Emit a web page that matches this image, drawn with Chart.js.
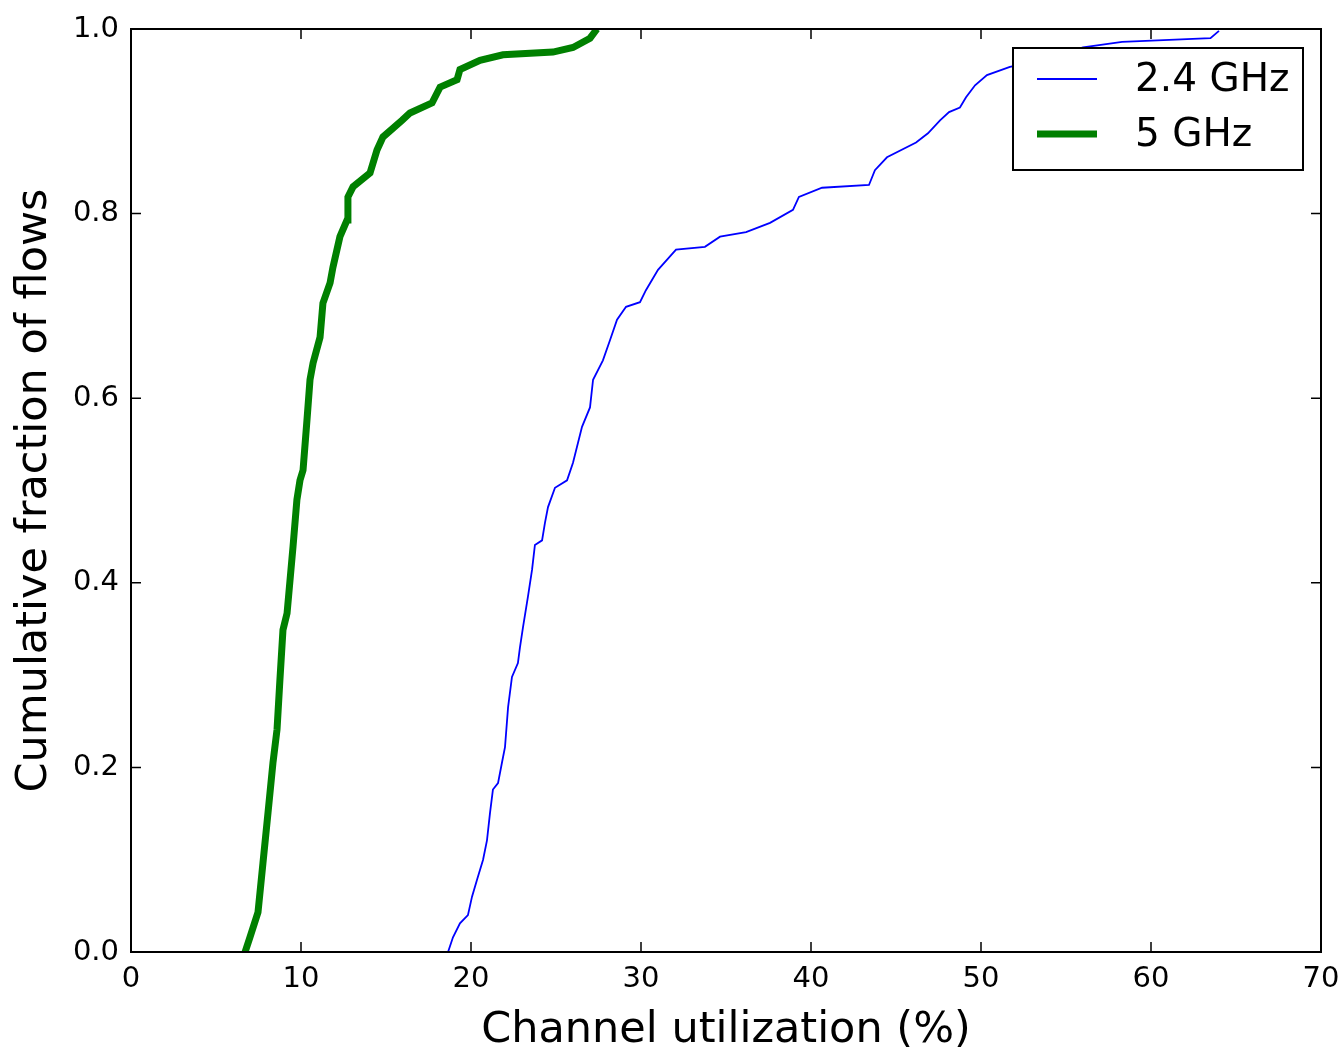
<!DOCTYPE html>
<html>
<head>
<meta charset="utf-8">
<script src="https://cdn.jsdelivr.net/npm/chart.js@4"></script>
<style>
  html, body { margin: 0; padding: 0; background: #fff; }
  #wrap { width: 1342px; height: 1048px; }
</style>
</head>
<body>
<div id="wrap"><canvas id="myChart" width="1342" height="1048"></canvas></div>
<script>
// CDF of channel utilization
var util24 = [18.65, 18.94, 19.35, 19.82, 20.06, 20.35, 20.71, 20.94, 21.12, 21.29, 21.59, 21.82, 22.0, 22.18, 22.41, 22.76, 22.88, 23.06, 23.35, 23.59, 23.76, 24.18, 24.35, 24.53, 24.94, 25.65, 26.0, 26.53, 27.0, 27.18, 27.76, 28.18, 28.59, 29.12, 29.94, 30.29, 31.0, 32.06, 33.76, 34.65, 36.18, 37.59, 38.94, 39.29, 40.65, 43.41, 43.76, 44.47, 46.18, 46.88, 47.59, 48.12, 48.76, 49.12, 49.65, 50.35, 51.7, 53.5, 56.0, 58.3, 63.5, 64.0];
var cdf24 = [0, 0.016, 0.031, 0.040, 0.060, 0.078, 0.100, 0.121, 0.151, 0.176, 0.183, 0.205, 0.222, 0.265, 0.298, 0.313, 0.330, 0.352, 0.385, 0.414, 0.441, 0.446, 0.465, 0.482, 0.503, 0.511, 0.530, 0.569, 0.590, 0.620, 0.641, 0.663, 0.685, 0.699, 0.704, 0.717, 0.739, 0.761, 0.764, 0.775, 0.780, 0.790, 0.804, 0.818, 0.828, 0.831, 0.847, 0.861, 0.877, 0.887, 0.901, 0.910, 0.915, 0.926, 0.939, 0.950, 0.959, 0.966, 0.980, 0.986, 0.990, 0.998];

var util5 = [6.71, 7.0, 7.47, 7.76, 8.06, 8.35, 8.59, 8.76, 8.94, 9.18, 9.53, 9.76, 9.94, 10.12, 10.35, 10.53, 10.71, 11.12, 11.29, 11.71, 11.88, 12.29, 12.71, 12.76, 13.06, 14.06, 14.47, 14.82, 15.94, 16.41, 17.71, 18.18, 19.18, 19.35, 20.53, 21.88, 24.82, 26.0, 27.0, 27.41];
var cdf5 = [0, 0.016, 0.043, 0.096, 0.151, 0.205, 0.241, 0.295, 0.349, 0.367, 0.439, 0.490, 0.511, 0.522, 0.576, 0.620, 0.638, 0.666, 0.703, 0.725, 0.742, 0.775, 0.793, 0.818, 0.829, 0.844, 0.869, 0.883, 0.901, 0.909, 0.920, 0.937, 0.945, 0.956, 0.966, 0.972, 0.975, 0.980, 0.990, 1.0];

var seriesNames = ["2.4 GHz", "5 GHz"];
var xTicks = [0, 10, 20, 30, 40, 50, 60, 70];
var yTicks = [0.0, 0.2, 0.4, 0.6, 0.8, 1.0];

function toPoints(xs, ys) {
  var pts = [];
  for (var i = 0; i < xs.length; i++) pts.push({x: xs[i], y: ys[i]});
  return pts;
}

var FONT = "'DejaVu Sans', sans-serif";

// frame + inward ticks on all four sides, matplotlib style
var framePlugin = {
  id: "frame",
  afterDatasetsDraw: function(chart) {
    var ctx = chart.ctx, a = chart.chartArea;
    var xs = chart.scales.x, ys = chart.scales.y;
    ctx.save();
    ctx.strokeStyle = "#000";
    ctx.lineWidth = 1.5;
    ctx.beginPath();
    xTicks.forEach(function(v) {
      var px = xs.getPixelForValue(v);
      ctx.moveTo(px, a.bottom); ctx.lineTo(px, a.bottom - 10);
      ctx.moveTo(px, a.top); ctx.lineTo(px, a.top + 10);
    });
    yTicks.forEach(function(v) {
      var py = ys.getPixelForValue(v);
      ctx.moveTo(a.left, py); ctx.lineTo(a.left + 10, py);
      ctx.moveTo(a.right, py); ctx.lineTo(a.right - 10, py);
    });
    ctx.stroke();
    ctx.lineWidth = 2;
    ctx.strokeRect(a.left, a.top, a.right - a.left, a.bottom - a.top);
    ctx.restore();
  }
};

// boxed legend in the upper right
var legendPlugin = {
  id: "boxLegend",
  afterDraw: function(chart) {
    var ctx = chart.ctx, a = chart.chartArea;
    var bx = a.right - 308, by = a.top + 19, bw = 290, bh = 122;
    ctx.save();
    ctx.fillStyle = "#fff";
    ctx.fillRect(bx, by, bw, bh);
    ctx.strokeStyle = "#000";
    ctx.lineWidth = 2;
    ctx.strokeRect(bx, by, bw, bh);
    ctx.font = "39px " + FONT;
    ctx.textBaseline = "middle";
    ctx.fillStyle = "#000";
    chart.data.datasets.forEach(function(ds, i) {
      var cy = by + 31 + i * 55;
      ctx.strokeStyle = ds.borderColor;
      ctx.lineWidth = ds.borderWidth;
      ctx.beginPath();
      ctx.moveTo(bx + 24, cy);
      ctx.lineTo(bx + 84, cy);
      ctx.stroke();
      ctx.fillText(ds.label, bx + 122, cy + 2);
    });
    ctx.restore();
  }
};

new Chart("myChart", {
  type: "line",
  data: {
    datasets: [{
      label: seriesNames[0],
      data: toPoints(util24, cdf24),
      borderColor: "#0000ff",
      borderWidth: 1.8,
      pointRadius: 0,
      tension: 0,
      fill: false
    }, {
      label: seriesNames[1],
      data: toPoints(util5, cdf5),
      borderColor: "#008000",
      borderWidth: 7,
      pointRadius: 0,
      tension: 0,
      fill: false
    }]
  },
  options: {
    responsive: false,
    animation: false,
    layout: {padding: {left: 0, right: 21, top: 29, bottom: 0}},
    plugins: {
      legend: {display: false},
      tooltip: {enabled: false}
    },
    scales: {
      x: {
        type: "linear",
        min: 0, max: 70,
        afterFit: function(s) { s.height = 96; s.paddingLeft = 0; s.paddingRight = 0; },
        afterBuildTicks: function(s) { s.ticks = xTicks.map(function(v) { return {value: v}; }); },
        grid: {display: false, drawTicks: false},
        border: {display: false},
        ticks: {color: "#000", font: {family: FONT, size: 29}, padding: 10, maxRotation: 0},
        title: {display: true, text: "Channel utilization (%)", color: "#000", font: {family: FONT, size: 43}, padding: {top: 0, bottom: -9}}
      },
      y: {
        type: "linear",
        min: 0, max: 1,
        afterFit: function(s) { s.width = 131; s.paddingTop = 0; s.paddingBottom = 0; },
        afterBuildTicks: function(s) { s.ticks = yTicks.map(function(v) { return {value: v}; }); },
        grid: {display: false, drawTicks: false},
        border: {display: false},
        ticks: {
          color: "#000", font: {family: FONT, size: 29}, padding: 12,
          callback: function(v) { return Number(v).toFixed(1); }
        },
        title: {display: true, text: "Cumulative fraction of flows", color: "#000", font: {family: FONT, size: 43}, padding: {top: 9, bottom: 0}}
      }
    }
  },
  plugins: [framePlugin, legendPlugin]
});
</script>
</body>
</html>
